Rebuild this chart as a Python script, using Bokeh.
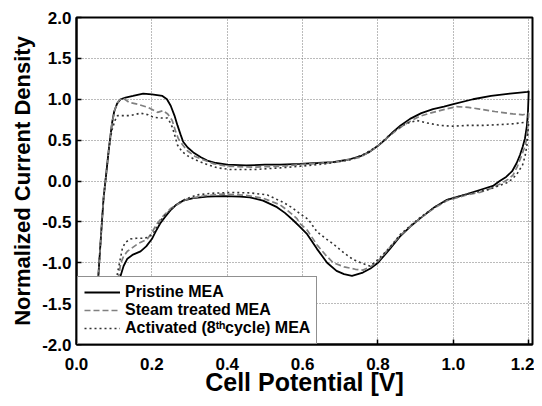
from bokeh.plotting import figure
from bokeh.models import Range1d, FixedTicker, PrintfTickFormatter, Legend, LegendItem
from bokeh.embed import file_html
from bokeh.resources import INLINE

x_ticks = [0.0, 0.2, 0.4, 0.6, 0.8, 1.0, 1.2]
y_ticks = [-2.0, -1.5, -1.0, -0.5, 0.0, 0.5, 1.0, 1.5, 2.0]

pristine_x = [0.050, 0.058, 0.066, 0.072, 0.078, 0.086, 0.094, 0.100, 0.108, 0.117, 0.130, 0.150, 0.177, 0.200, 0.228, 0.240, 0.250, 0.260, 0.268, 0.276, 0.283, 0.295, 0.310, 0.330, 0.347, 0.370, 0.400, 0.450, 0.500, 0.540, 0.593, 0.640, 0.681, 0.720, 0.752, 0.775, 0.800, 0.820, 0.840, 0.860, 0.885, 0.915, 0.946, 0.975, 1.000, 1.052, 1.100, 1.150, 1.197, 1.200,
              1.198, 1.195, 1.190, 1.184, 1.177, 1.168, 1.156, 1.140, 1.123, 1.105, 1.070, 1.036, 0.983, 0.950, 0.911, 0.885, 0.858, 0.830, 0.800, 0.780, 0.760, 0.731, 0.710, 0.690, 0.665, 0.638, 0.612, 0.593, 0.575, 0.553, 0.532, 0.495, 0.460, 0.434, 0.390, 0.347, 0.310, 0.283, 0.265, 0.249, 0.235, 0.222, 0.210, 0.200, 0.185, 0.170, 0.150, 0.135, 0.125, 0.117, 0.100, 0.082]
pristine_y = [-2.00, -1.16, -0.60, -0.20, 0.05, 0.40, 0.70, 0.85, 0.95, 1.00, 1.02, 1.04, 1.07, 1.06, 1.04, 1.00, 0.92, 0.80, 0.68, 0.57, 0.48, 0.41, 0.35, 0.29, 0.25, 0.22, 0.20, 0.19, 0.20, 0.20, 0.21, 0.22, 0.23, 0.26, 0.30, 0.35, 0.43, 0.51, 0.60, 0.68, 0.76, 0.83, 0.88, 0.91, 0.94, 1.00, 1.04, 1.07, 1.09, 1.10,
              0.85, 0.67, 0.52, 0.42, 0.32, 0.22, 0.12, 0.05, 0.00, -0.06, -0.11, -0.16, -0.23, -0.32, -0.46, -0.56, -0.68, -0.84, -1.00, -1.07, -1.12, -1.16, -1.14, -1.10, -1.00, -0.83, -0.65, -0.56, -0.48, -0.39, -0.32, -0.24, -0.20, -0.19, -0.185, -0.19, -0.21, -0.24, -0.29, -0.36, -0.44, -0.52, -0.62, -0.71, -0.80, -0.86, -0.90, -0.95, -1.04, -1.16, -1.55, -2.00]

steam_x = [0.050, 0.058, 0.066, 0.072, 0.078, 0.086, 0.094, 0.102, 0.112, 0.122, 0.140, 0.162, 0.190, 0.215, 0.230, 0.242, 0.254, 0.262, 0.270, 0.282, 0.294, 0.315, 0.336, 0.365, 0.400, 0.470, 0.540, 0.593, 0.650, 0.700, 0.752, 0.775, 0.800, 0.830, 0.855, 0.877, 0.910, 0.946, 0.980, 1.009, 1.040, 1.070, 1.110, 1.158, 1.185, 1.200,
           1.197, 1.195, 1.188, 1.181, 1.170, 1.158, 1.145, 1.131, 1.100, 1.070, 1.036, 0.983, 0.950, 0.911, 0.885, 0.858, 0.830, 0.800, 0.780, 0.760, 0.740, 0.710, 0.681, 0.660, 0.638, 0.612, 0.593, 0.585, 0.560, 0.540, 0.495, 0.450, 0.390, 0.340, 0.294, 0.270, 0.249, 0.230, 0.214, 0.200, 0.188, 0.162, 0.135, 0.125, 0.117, 0.105, 0.085]
steam_y = [-2.00, -1.16, -0.60, -0.20, 0.05, 0.40, 0.70, 0.88, 0.98, 1.02, 0.96, 0.94, 0.90, 0.84, 0.86, 0.82, 0.74, 0.62, 0.52, 0.44, 0.37, 0.30, 0.26, 0.21, 0.18, 0.17, 0.18, 0.20, 0.22, 0.24, 0.29, 0.35, 0.43, 0.55, 0.64, 0.71, 0.79, 0.84, 0.88, 0.91, 0.90, 0.88, 0.85, 0.82, 0.81, 0.83,
           0.62, 0.52, 0.40, 0.31, 0.18, 0.07, 0.02, -0.02, -0.09, -0.14, -0.17, -0.24, -0.33, -0.46, -0.56, -0.67, -0.82, -0.98, -1.05, -1.09, -1.08, -1.05, -1.00, -0.90, -0.78, -0.60, -0.52, -0.46, -0.36, -0.29, -0.21, -0.175, -0.16, -0.18, -0.22, -0.28, -0.34, -0.43, -0.52, -0.63, -0.71, -0.77, -0.86, -0.92, -1.01, -1.40, -2.00]

activated_x = [0.050, 0.058, 0.066, 0.072, 0.078, 0.086, 0.094, 0.102, 0.109, 0.125, 0.143, 0.170, 0.190, 0.204, 0.225, 0.241, 0.248, 0.254, 0.262, 0.268, 0.280, 0.294, 0.320, 0.347, 0.375, 0.408, 0.470, 0.540, 0.593, 0.660, 0.726, 0.760, 0.800, 0.830, 0.858, 0.880, 0.903, 0.930, 0.964, 1.000, 1.036, 1.080, 1.123, 1.160, 1.195, 1.200,
               1.197, 1.195, 1.190, 1.184, 1.168, 1.155, 1.142, 1.120, 1.097, 1.036, 0.983, 0.950, 0.911, 0.885, 0.858, 0.830, 0.800, 0.779, 0.760, 0.734, 0.710, 0.681, 0.660, 0.638, 0.615, 0.593, 0.570, 0.548, 0.506, 0.460, 0.408, 0.360, 0.320, 0.290, 0.267, 0.248, 0.230, 0.215, 0.204, 0.190, 0.177, 0.160, 0.143, 0.130, 0.122, 0.109, 0.095, 0.085]
activated_y = [-2.00, -1.16, -0.60, -0.20, 0.05, 0.40, 0.62, 0.74, 0.80, 0.80, 0.80, 0.83, 0.81, 0.78, 0.77, 0.77, 0.72, 0.66, 0.54, 0.44, 0.36, 0.31, 0.25, 0.20, 0.16, 0.14, 0.14, 0.16, 0.18, 0.21, 0.26, 0.32, 0.43, 0.56, 0.66, 0.71, 0.74, 0.71, 0.68, 0.67, 0.68, 0.68, 0.69, 0.70, 0.72, 0.73,
               0.55, 0.43, 0.30, 0.20, 0.08, 0.02, -0.02, -0.06, -0.10, -0.16, -0.23, -0.32, -0.45, -0.55, -0.66, -0.82, -0.96, -1.04, -1.01, -0.96, -0.88, -0.77, -0.70, -0.62, -0.47, -0.40, -0.32, -0.26, -0.17, -0.145, -0.14, -0.15, -0.17, -0.22, -0.28, -0.36, -0.44, -0.55, -0.64, -0.69, -0.70, -0.70, -0.71, -0.75, -0.82, -1.12, -1.60, -2.00]

series_labels = ["Pristine MEA", "Steam treated MEA", "Activated (8\u1d57\u02b0cycle) MEA"]

FONT = "Liberation Sans"

p = figure(width=534, height=398, output_backend="svg", toolbar_location=None,
           x_range=Range1d(0.0, 1.21), y_range=Range1d(-2.0, 2.0),
           min_border_left=76, min_border_right=2, min_border_top=17, min_border_bottom=48)
p.background_fill_color = "white"
p.border_fill_color = "white"
p.outline_line_color = "black"
p.outline_line_width = 2

r1 = p.line(pristine_x, pristine_y, line_color="black", line_width=1.8)
r2 = p.line(steam_x, steam_y, line_color="#808080", line_width=1.7, line_dash="6 3")
r3 = p.line(activated_x, activated_y, line_color="#333333", line_width=1.6, line_dash="2 3")

for ax in (p.xaxis[0], p.yaxis[0]):
    ax.axis_line_color = "black"
    ax.axis_line_width = 2
    ax.major_tick_in = 5
    ax.major_tick_out = 0
    ax.major_tick_line_color = "black"
    ax.major_tick_line_width = 1.5
    ax.minor_tick_line_color = None
    ax.major_label_text_font = FONT
    ax.major_label_text_font_style = "bold"
    ax.major_label_text_font_size = "17px"
    ax.major_label_text_color = "black"
    ax.axis_label_text_font = FONT
    ax.axis_label_text_font_style = "bold"
    ax.axis_label_text_color = "black"
    ax.formatter = PrintfTickFormatter(format="%.1f")

p.xaxis[0].ticker = FixedTicker(ticks=x_ticks)
p.yaxis[0].ticker = FixedTicker(ticks=y_ticks)
p.xaxis[0].axis_label = "Cell Potential [V]"
p.yaxis[0].axis_label = "Normalized Current Density"
p.xaxis[0].axis_label_text_font_size = "25px"
p.yaxis[0].axis_label_text_font_size = "22px"
p.xaxis[0].major_label_standoff = 13
p.yaxis[0].major_label_standoff = 5
p.xaxis[0].axis_label_standoff = -5
p.yaxis[0].axis_label_standoff = 4

for g in (p.xgrid[0], p.ygrid[0]):
    g.grid_line_color = "#777777"
    g.grid_line_width = 1
    g.grid_line_dash = "1 2"

legend = Legend(items=[LegendItem(label=series_labels[0], renderers=[r1]),
                       LegendItem(label=series_labels[1], renderers=[r2]),
                       LegendItem(label=series_labels[2], renderers=[r3])],
                location=(1, 0))
legend.label_text_font = FONT
legend.label_text_font_style = "bold"
legend.label_text_font_size = "16px"
legend.label_text_color = "black"
legend.glyph_width = 36
legend.glyph_height = 16
legend.label_height = 16
legend.label_standoff = 5
legend.padding = 6
legend.spacing = -1
legend.margin = 0
legend.border_line_color = "#222222"
legend.border_line_width = 1
legend.background_fill_color = "white"
legend.background_fill_alpha = 1.0
p.add_layout(legend, "center")

open("out.html", "w").write(file_html(p, INLINE))
